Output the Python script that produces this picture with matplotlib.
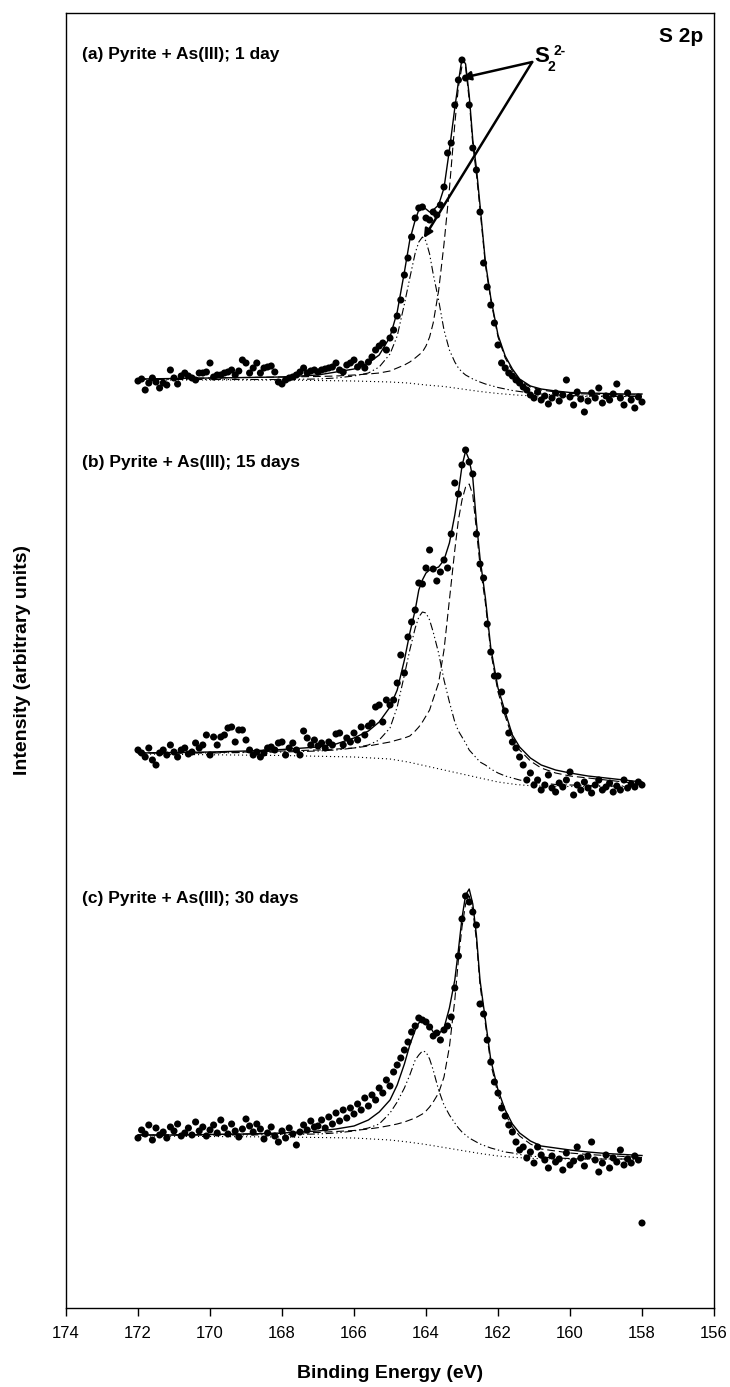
"""S 2p XPS spectra of pyrite reacted with As(III), three stacked spectra."""

import numpy as np
import matplotlib.pyplot as plt

plt.rcParams['font.family'] = ['Liberation Sans', 'DejaVu Sans']

# measured points: 172.0 -> 158.0 eV, 0.1 eV step
scan_be = np.arange(1720, 1579, -1) / 10.0

pts_a = [-2, 0, -11, -4, 1, -3, -9, -4, -6, 9,
         1, -5, 3, 6, 3, 1, -1, 6, 6, 7,
         16, 2, 4, 4, 6, 7, 9, 4, 8, 19,
         16, 6, 11, 16, 6, 11, 12, 13, 7, -3,
         -5, -1, 1, 2, 4, 7, 11, 6, 8, 9,
         7, 9, 10, 11, 12, 16, 9, 7, 14, 16,
         19, 12, 15, 11, 17, 22, 29, 33, 36, 29,
         41, 49, 63, 79, 104, 121, 142, 161, 171, 172,
         161, 159, 167, 164, 174, 192, 226, 236, 274, 299,
         319, 301, 274, 231, 209, 167, 116, 92, 74, 56,
         34, 16, 11, 6, 3, -1, -4, -8, -11, -16,
         -19, -13, -21, -17, -25, -19, -14, -22, -16, -1,
         -18, -26, -13, -20, -33, -22, -14, -19, -9, -24,
         -17, -21, -15, -5, -19, -26, -14, -21, -29, -18,
         -23]

pts_b = [3, 0, -4, 5, -7, -12, 0, 3, -2, 8,
         1, -4, 3, 5, -1, 1, 10, 5, 8, 18,
         -2, 16, 8, 16, 18, 25, 26, 11, 23, 23,
         13, 3, -2, 1, -4, 0, 5, 6, 3, 10,
         11, -2, 5, 10, 3, -2, 22, 15, 8, 13,
         7, 10, 5, 11, 8, 19, 20, 8, 15, 11,
         20, 13, 26, 18, 27, 30, 46, 48, 31, 53,
         48, 53, 70, 98, 80, 116, 131, 143, 170, 169,
         185, 203, 184, 172, 181, 193, 185, 219, 270, 259,
         288, 303, 291, 279, 219, 189, 175, 129, 101, 77,
         77, 61, 42, 20, 11, 5, -4, -12, -27, -20,
         -32, -27, -37, -32, -22, -35, -39, -30, -34, -27,
         -19, -42, -32, -37, -29, -35, -40, -32, -27, -37,
         -34, -30, -39, -33, -37, -27, -35, -31, -34, -29,
         -32]

pts_c = [-3, 5, 1, 10, -5, 7, 0, 3, -3, 8,
         4, 11, -1, 2, 7, 0, 13, 4, 8, -1,
         5, 10, 2, 15, 7, 1, 11, 4, -2, 6,
         16, 9, 3, 11, 6, -4, 2, 8, -1, -7,
         4, -3, 7, 1, -10, 3, 10, 5, 14, 8,
         9, 15, 7, 18, 11, 22, 14, 25, 17, 27,
         21, 31, 25, 37, 29, 40, 35, 47, 42, 55,
         49, 63, 70, 77, 85, 93, 103, 109, 117, 115,
         113, 108, 99, 102, 95, 105, 109, 118, 147, 179,
         216, 239, 233, 223, 210, 131, 121, 95, 73, 53,
         42, 27, 19, 10, 3, -7, -15, -12, -23, -17,
         -28, -12, -20, -25, -33, -21, -27, -24, -35, -18,
         -30, -26, -12, -23, -31, -21, -7, -25, -37, -28,
         -20, -33, -23, -27, -15, -30, -24, -28, -21, -25,
         -88]

# fitted curves (envelope, S2 2p3/2, S2 2p1/2)
fit_be = [172.0, 171.0, 170.0, 169.0, 168.0, 167.0, 166.5, 166.0, 165.6, 165.3,
          165.0, 164.8, 164.6, 164.45, 164.3, 164.2, 164.1, 164.0, 163.9, 163.8,
          163.65, 163.5, 163.35, 163.2, 163.1, 163.0, 162.9, 162.8, 162.7, 162.6,
          162.5, 162.35, 162.2, 162.0, 161.8, 161.6, 161.4, 161.1, 160.8, 160.4,
          160.0, 159.5, 159.0, 158.5, 158.0]

tot_a = [0, 0.5, 1, 1.5, 2, 4, 7, 10, 16, 24,
         42, 67, 107, 139, 159, 169, 172, 170, 167, 169,
         174, 191, 229, 271, 297, 320.5, 315, 284, 239, 211,
         174, 117, 81, 44, 23, 10, 0, -7, -10, -12,
         -13.5, -14, -14.5, -15, -15]
p32_a = [0, 0.5, 1, 1.5, 2, 2.5, 3, 4, 5, 6,
         8, 11, 14, 17, 21, 24, 27, 33, 42, 56,
         88, 135, 190, 255, 292, 313, 312, 279, 234, 205,
         170, 114, 79, 42, 21, 8, -1, -8, -11, -13,
         -14.5, -15, -15.5, -16, -16]
p12_a = [-0.5, -0.5, -0.5, -0.5, -0.5, 0, 1, 3, 6, 12,
         25, 43, 75, 101, 126, 137, 142, 138, 125, 105,
         79, 49, 29, 17, 11, 7, 4, 2, 0, -1.5,
         -3, -5, -6.5, -8.5, -10, -11.5, -12.5, -14, -15, -16,
         -16.5, -17, -17.3, -17.5, -17.5]

tot_b = [0, 0.5, 1, 2, 3.5, 6, 9, 15, 22, 31,
         46, 63, 93, 120, 143, 163, 173, 180, 183, 184,
         186, 193, 210, 238, 261, 287, 302, 293, 275, 231,
         195, 155, 105, 65, 41, 18, 6, -5, -12, -17,
         -20, -23, -25, -27, -29]
p32_b = [0, 0, 0.5, 1, 2, 3, 4, 5, 7, 9,
         11, 13, 15, 17, 22, 26, 31, 37, 43, 54,
         70, 103, 153, 203, 233, 253, 266, 269, 258, 223,
         188, 150, 101, 61, 37, 15, 3, -8, -15, -20,
         -23, -25, -27, -29, -31]
p12_b = [0, 0, 0, 0.5, 1, 2, 3, 5, 8, 13,
         25, 46, 78, 103, 125, 136, 141, 140, 133, 121,
         100, 73, 51, 31, 22, 16, 10, 3, -1, -5,
         -9, -12, -16, -20, -23, -25, -27, -29, -30, -31.5,
         -32, -32.5, -33, -33, -33]

tot_c = [0, 0, 0.5, 1, 2, 4, 6, 9, 15, 23,
         35, 50, 71, 90, 105, 112, 115, 114, 109, 103,
         101, 107, 127, 155, 185, 217, 240, 246, 231, 200,
         155, 115, 75, 45, 25, 11, 2, -6, -11, -13,
         -15, -17, -18.5, -19.5, -20.5]
p32_c = [0, 0, 0.5, 1, 1.5, 2.5, 3.5, 4.5, 6, 7.5,
         9.5, 11, 13, 15, 17, 19, 21, 24, 28, 33,
         42, 58, 88, 135, 175, 208, 231, 239, 225, 195,
         150, 111, 71, 41, 21, 8, -1, -9, -14, -16,
         -18, -19.5, -20.5, -21.5, -22.5]
p12_c = [0, 0, 0, 0, 0.5, 1, 2, 4, 7, 11,
         22, 33, 47, 60, 75, 80, 84, 83, 76, 65,
         45, 30, 20, 12, 7, 3, 0, -3, -5, -7,
         -9, -11, -13, -15, -17, -18, -19.5, -21, -22, -23,
         -23.5, -24, -24, -24, -24]

# Shirley-type background
bg_be = [172, 168, 166, 165, 164.5, 164, 163.5, 163, 162.5, 162, 161.5, 161, 160, 158]
bg_a = [-1, -1, -2, -3, -4, -6, -7.5, -10, -12.5, -14.5, -16, -17, -17.5, -17.5]
bg_b = [-1, -2.5, -4, -6, -9, -13, -17, -21, -25, -29, -31.5, -33, -33.5, -33.5]
bg_c = [-1, -2, -3, -5, -7, -9.5, -12.5, -15.5, -18.5, -21, -22.5, -23.5, -24, -24]

labels = ['(a) Pyrite + As(III); 1 day',
          '(b) Pyrite + As(III); 15 days',
          '(c) Pyrite + As(III); 30 days']

spectra = [
    (pts_a, tot_a, p32_a, p12_a, bg_a),
    (pts_b, tot_b, p32_b, p12_b, bg_b),
    (pts_c, tot_c, p32_c, p12_c, bg_c),
]
offsets = [929, 555, 173]
label_y = [1253, 845, 410]

fig = plt.figure(figsize=(7.3, 13.87), dpi=100)
ax = fig.add_axes([66 / 730, 79 / 1387, 648 / 730, 1295 / 1387])

dash_32 = (0, (7, 3.5))
dash_12 = (0, (7, 2.5, 1.2, 2.5, 1.2, 2.5))
dots = (0, (1, 2.6))

for (pts, tot, p32, p12, bg), off, lab, ly in zip(spectra, offsets, labels, label_y):
    ax.plot(bg_be, np.array(bg) + off, color='k', lw=0.8, ls=dots)
    ax.plot(fit_be, np.array(p12) + off, color='k', lw=0.8, ls=dash_12)
    ax.plot(fit_be, np.array(p32) + off, color='k', lw=0.8, ls=dash_32)
    ax.plot(fit_be, np.array(tot) + off, color='k', lw=1.0)
    ax.scatter(scan_be, np.array(pts) + off, s=26, color='k', edgecolors='none', zorder=3)
    ax.text(173.55, ly, lab, fontsize=12.5, fontweight='bold', ha='left', va='center')

ax.text(156.3, 1271, 'S 2p', fontsize=15, fontweight='bold', ha='right', va='center')

# S2 2- label built from pieces so the charge sits after the subscript
ax.text(160.98, 1251, 'S', fontsize=16, fontweight='bold', ha='left', va='center')
ax.text(160.63, 1241, '2', fontsize=10, fontweight='bold', ha='left', va='center')
ax.text(160.45, 1257, '2-', fontsize=10, fontweight='bold', ha='left', va='center')
for target in [(163.0, 1230), (164.06, 1070)]:
    ax.annotate('', xy=target, xytext=(161.05, 1246),
                arrowprops=dict(arrowstyle='-|>', color='k', lw=1.8,
                                mutation_scale=13, shrinkA=0, shrinkB=0))

ax.set_xlim(174, 156)
ax.set_ylim(0, 1295)
ax.set_xticks(np.arange(174, 155, -2))
ax.set_yticks([])
ax.tick_params(axis='x', direction='out', length=6, width=1, labelsize=12, pad=7)
for sp in ax.spines.values():
    sp.set_linewidth(1.0)

fig.text(390 / 730, 1 - 1373 / 1387, 'Binding Energy (eV)', fontsize=14,
         fontweight='bold', ha='center', va='center')
fig.text(23 / 730, 1 - 660 / 1387, 'Intensity (arbitrary units)', fontsize=14,
         fontweight='bold', ha='center', va='center', rotation=90)

fig.savefig('out.png', dpi=100)
